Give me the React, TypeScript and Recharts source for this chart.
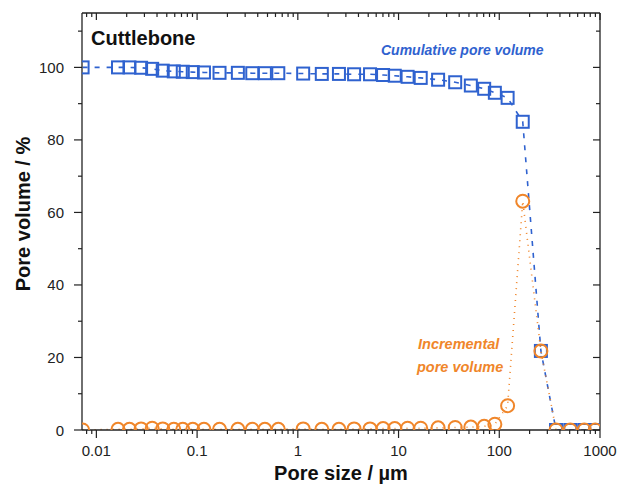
import React from 'react';
import { LineChart, Line, XAxis, YAxis } from 'recharts';

// ── Data ────────────────────────────────────────────────────────
const poreSize = [
  0.0073, 0.0164, 0.0213, 0.0278, 0.0358, 0.0456, 0.0587, 0.0721, 0.0906, 0.117,
  0.167, 0.254, 0.353, 0.471, 0.64, 1.13, 1.73, 2.56, 3.62, 5.21,
  7.02, 9.17, 12.3, 16.6, 24.7, 36.5, 52.2, 70.8, 90.4, 121,
  171, 259, 366, 507, 698, 897,
];
const cumulative = [
  100, 100, 100, 99.9, 99.6, 99.1, 98.9, 98.8, 98.7, 98.6,
  98.5, 98.5, 98.4, 98.4, 98.4, 98.3, 98.2, 98.2, 98.1, 98.1,
  97.9, 97.7, 97.4, 97.1, 96.6, 95.9, 95.0, 94.1, 93.0, 91.6,
  85.0, 21.8, 0, 0, 0, 0,
];
const incremental = [
  0, 0.2, 0.2, 0.3, 0.5, 0.3, 0.2, 0.2, 0.2, 0.2,
  0.2, 0.2, 0.2, 0.2, 0.2, 0.3, 0.2, 0.2, 0.3, 0.3,
  0.4, 0.4, 0.5, 0.5, 0.6, 0.7, 0.8, 1.0, 1.6, 6.7,
  63.1, 21.8, 0, 0, 0, 0,
];

const xMajor = [0.01, 0.1, 1, 10, 100, 1000];
const xMinor = [0.008, 0.009, ...[0.01, 0.1, 1, 10, 100].flatMap((d) => [2, 3, 4, 5, 6, 7, 8, 9].map((k) => +(d * k).toPrecision(3)))];
const yMajor = [0, 20, 40, 60, 80, 100];
const yMinor = [10, 30, 50, 70, 90, 110];

const rows = poreSize.map((size, i) => ({ size, cum: cumulative[i], inc: incremental[i] }));

const BLUE = '#2f62cf';
const ORANGE = '#f0862a';
const AXIS = '#222';
const FONT = '"Liberation Sans", Arial, sans-serif';

const xTicks = [...xMinor, ...xMajor].sort((a, b) => a - b);
const yTicks = [...yMinor, ...yMajor].sort((a, b) => a - b);

// ── Tick renderers (tickSize/tickMargin = 0, so x/y sit on the axis line) ──
const BottomTick = ({ x, y, payload }: any) => {
  const major = xMajor.includes(payload.value);
  return (
    <g>
      <line x1={x} x2={x} y1={y} y2={y + (major ? 8 : 4)} stroke={AXIS} strokeWidth={1.2} />
      {major && (
        <text x={x} y={y + 26} textAnchor="middle" fontSize={15} fill={AXIS} fontFamily={FONT}>
          {String(payload.value)}
        </text>
      )}
    </g>
  );
};

const TopTick = ({ x, y, payload }: any) => {
  const major = xMajor.includes(payload.value);
  return <line x1={x} x2={x} y1={y} y2={y + (major ? 7 : 4)} stroke={AXIS} strokeWidth={1.2} />;
};

const LeftTick = ({ x, y, payload }: any) => {
  const major = yMajor.includes(payload.value);
  return (
    <g>
      <line x1={x} x2={x - (major ? 8 : 4)} y1={y} y2={y} stroke={AXIS} strokeWidth={1.2} />
      {major && (
        <text x={x - 18} y={y + 5.5} textAnchor="end" fontSize={15} fill={AXIS} fontFamily={FONT}>
          {payload.value}
        </text>
      )}
    </g>
  );
};

const RightTick = ({ x, y, payload }: any) => {
  const major = yMajor.includes(payload.value);
  return <line x1={x} x2={x - (major ? 7 : 4)} y1={y} y2={y} stroke={AXIS} strokeWidth={1.2} />;
};

// ── Markers ─────────────────────────────────────────────────────
const Square = (p: any) =>
  p.cx == null ? null : (
    <rect key={p.key} x={p.cx - 6} y={p.cy - 6} width={12} height={12} fill="none" stroke={BLUE} strokeWidth={2} />
  );

const Circle = (p: any) =>
  p.cx == null ? null : (
    <circle key={p.key} cx={p.cx} cy={p.cy} r={6.5} fill="none" stroke={ORANGE} strokeWidth={2} />
  );

export default function App() {
  const axisLine = { stroke: AXIS, strokeWidth: 1.3 };
  return (
    <div style={{ position: 'absolute', left: 0, top: 0, width: 620, height: 485, background: '#fff' }}>
      <LineChart width={620} height={485} data={rows} margin={{ top: 12, right: 19, bottom: 0, left: 0 }}>
        <XAxis
          xAxisId="b" dataKey="size" type="number" scale="log" domain={[0.0072, 1000]} allowDataOverflow
          ticks={xTicks} interval={0} tickSize={0} tickMargin={0} tickLine={false}
          tick={<BottomTick />} axisLine={axisLine} height={55}
        />
        <XAxis
          xAxisId="t" orientation="top" dataKey="size" type="number" scale="log" domain={[0.0072, 1000]} allowDataOverflow
          ticks={xTicks} interval={0} tickSize={0} tickMargin={0} tickLine={false}
          tick={<TopTick />} axisLine={axisLine} height={1}
        />
        <YAxis
          yAxisId="l" type="number" domain={[0, 115]} allowDataOverflow ticks={yTicks} interval={0}
          tickSize={0} tickMargin={0} tickLine={false} tick={<LeftTick />} axisLine={axisLine} width={82}
        />
        <YAxis
          yAxisId="r" orientation="right" type="number" domain={[0, 115]} allowDataOverflow ticks={yTicks} interval={0}
          tickSize={0} tickMargin={0} tickLine={false} tick={<RightTick />} axisLine={axisLine} width={1}
        />
        {/* invisible series so the frame axes are bound to data */}
        <Line
          xAxisId="t" yAxisId="r" dataKey="cum" stroke="none" dot={false} activeDot={false}
          legendType="none" isAnimationActive={false}
        />
        <Line
          xAxisId="b" yAxisId="l" type="linear" dataKey="cum" stroke={BLUE} strokeWidth={1.6}
          strokeDasharray="5 7" dot={Square} activeDot={false} isAnimationActive={false}
        />
        <Line
          xAxisId="b" yAxisId="l" type="linear" dataKey="inc" stroke={ORANGE} strokeWidth={1.6}
          strokeDasharray="1 5" dot={Circle} activeDot={false} isAnimationActive={false}
        />
      </LineChart>
      <svg width={620} height={485} style={{ position: 'absolute', left: 0, top: 0, pointerEvents: 'none' }} fontFamily={FONT}>
        <text x={91} y={45} fontSize={20} fontWeight="bold" fill="#111">Cuttlebone</text>
        <text x={381} y={55} fontSize={14} fontWeight="bold" fontStyle="italic" fill={BLUE}>Cumulative pore volume</text>
        <text x={418} y={349} fontSize={14.5} fontWeight="bold" fontStyle="italic" fill={ORANGE}>Incremental</text>
        <text x={417} y={372} fontSize={14.5} fontWeight="bold" fontStyle="italic" fill={ORANGE}>pore volume</text>
        <text x={341} y={480} fontSize={20} fontWeight="bold" fill="#111" textAnchor="middle">Pore size / µm</text>
        <text x={30} y={214} fontSize={20} fontWeight="bold" fill="#111" textAnchor="middle" transform="rotate(-90 30 214)">
          Pore volume / %
        </text>
      </svg>
    </div>
  );
}
